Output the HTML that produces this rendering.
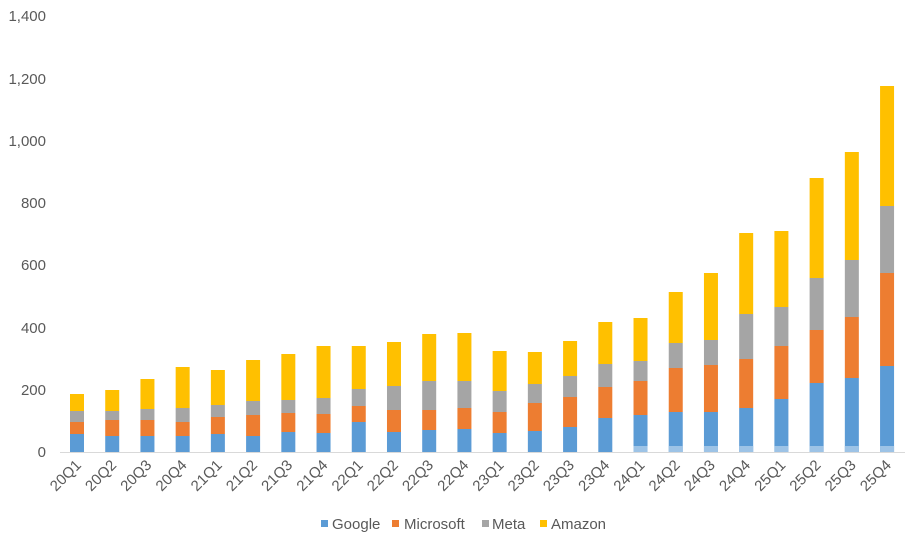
<!DOCTYPE html>
<html><head><meta charset="utf-8"><style>
html,body{margin:0;padding:0;background:#fff;}
svg{display:block;font-family:"Liberation Sans",Arial,sans-serif;}
</style></head><body>
<svg width="921" height="546" viewBox="0 0 921 546" xmlns="http://www.w3.org/2000/svg">
<g font-size="15" fill="#595959" text-anchor="end">
<text x="46" y="457">0</text>
<text x="46" y="395">200</text>
<text x="46" y="333">400</text>
<text x="46" y="270">600</text>
<text x="46" y="208">800</text>
<text x="46" y="146">1,000</text>
<text x="46" y="84">1,200</text>
<text x="46" y="21">1,400</text>
</g>
<line x1="60" y1="452.5" x2="905" y2="452.5" stroke="#d9d9d9" stroke-width="1"/>
<g id="bars"></g>
<g id="labels" font-size="15" fill="#595959" text-anchor="end"></g>
<g font-size="15" fill="#595959">
<rect x="321" y="520" width="7" height="7" fill="#5b9bd5"/><text x="332" y="529">Google</text>
<rect x="392" y="520" width="7" height="7" fill="#ed7d31"/><text x="404" y="529">Microsoft</text>
<rect x="482" y="520" width="7" height="7" fill="#a5a5a5"/><text x="492" y="529">Meta</text>
<rect x="540" y="520" width="7" height="7" fill="#ffc000"/><text x="551" y="529">Amazon</text>
</g>
<script>
var d=[[394,411,422,434],[390,411,420,436],[379,409,420,436],[367,408,422,436],[370,405,417,434],[360,401,415,436],[354,400,413,432],[346,398,414,433],[346,389,406,422],[342,386,410,432],[334,381,410,430],[333,381,408,429],[351,391,412,433],[352,384,403,431],[341,376,397,427],[322,364,387,418],[318,361,381,415],[292,343,368,412],[273,340,365,412],[233,314,359,408],[231,307,346,399],[178,278,330,383],[152,260,317,378],[86,206,273,366]];
var labs=["20Q1","20Q2","20Q3","20Q4","21Q1","21Q2","21Q3","21Q4","22Q1","22Q2","22Q3","22Q4","23Q1","23Q2","23Q3","23Q4","24Q1","24Q2","24Q3","24Q4","25Q1","25Q2","25Q3","25Q4"];
var cols=["#ffc000","#a5a5a5","#ed7d31","#5b9bd5"];
var ns="http://www.w3.org/2000/svg",g=document.getElementById("bars"),lg=document.getElementById("labels");
for(var i=0;i<24;i++){var x=70+i*35.22;var t=d[i];var ys=[t[0],t[1],t[2],t[3],452];
for(var k=0;k<4;k++){var r=document.createElementNS(ns,"rect");r.setAttribute("x",x);r.setAttribute("y",ys[k]);r.setAttribute("width",14);r.setAttribute("height",ys[k+1]-ys[k]);r.setAttribute("fill",cols[k]);g.appendChild(r);}
if(i>=16){var r=document.createElementNS(ns,"rect");r.setAttribute("x",x);r.setAttribute("y",446);r.setAttribute("width",14);r.setAttribute("height",6);r.setAttribute("fill","#9dc3e6");g.appendChild(r);}
var tx=document.createElementNS(ns,"text");var cx=x+12,cy=466;tx.setAttribute("x",cx);tx.setAttribute("y",cy);tx.setAttribute("transform","rotate(-45 "+cx+" "+cy+")");tx.textContent=labs[i];lg.appendChild(tx);}
</script>
</svg>
</body></html>
